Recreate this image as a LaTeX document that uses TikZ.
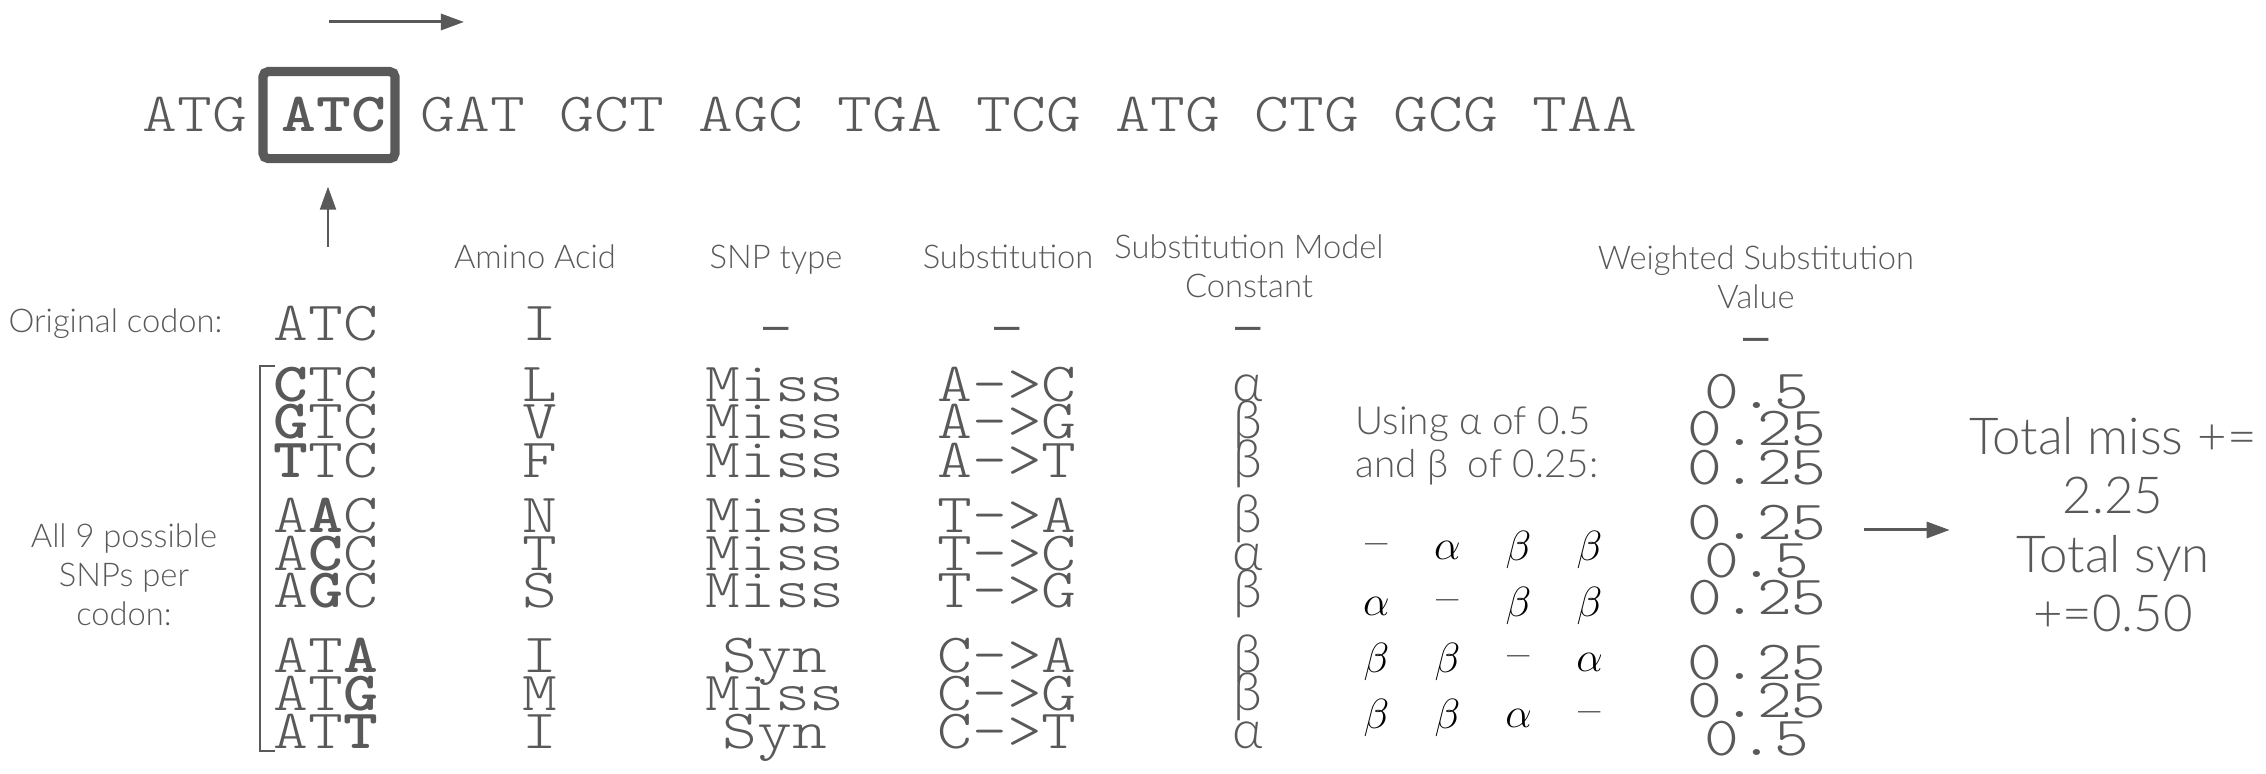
\documentclass[tikz,border=0pt]{standalone}
\usepackage{fontspec}
\setsansfont{Lato Light}
\newfontfamily\seqfont{lmmonolt10-regular.otf}[BoldFont=lmmonolt10-bold.otf,FakeStretch=1.2]
\newfontfamily\dashfont{Liberation Sans}
\usetikzlibrary{arrows.meta,matrix}
\definecolor{ink}{HTML}{595959}
\tikzset{
  mono/.style={font=\seqfont\fontsize{15.7}{18}\selectfont,text=ink,inner sep=0pt},
  colhead/.style={font=\sffamily\fontsize{9.3}{11.1}\selectfont,text=ink,align=center,inner sep=0pt},
  greek/.style={font=\sffamily\fontsize{15}{18}\selectfont,text=ink,inner sep=0pt},
  nilmark/.style={font=\dashfont\fontsize{13}{15}\selectfont,text=ink,inner sep=0pt},
  flow/.style={draw=ink,line width=0.85pt,-{Triangle[length=0.23cm,width=0.16cm]}},
  selbox/.style={draw=ink,line width=2.6pt,rounded corners=1.5pt,minimum width=1.32cm,minimum height=0.87cm,inner sep=0pt},
}

\begin{document}
\begin{tikzpicture}[x=0.01cm,y=-0.01cm]
  \useasboundingbox (0,0) rectangle (2266,774);
  % reading frame
  \foreach \cod [count=\k from 0] in {ATG,\textbf{ATC},GAT,GCT,AGC,TGA,TCG,ATG,CTG,GCG,TAA}
    \node[mono,anchor=base] (seq\k) at ({195+139*\k},132) {\cod};
  \node[selbox] (sel) at ([xshift=-0.05cm]seq1.center) {};
  \coordinate (dirA) at (329,22);
  \coordinate (dirB) at (464,22);
  \draw[flow] (dirA) -- (dirB);
  \coordinate (ptr) at (328,247);
  \draw[flow,line width=0.6pt,shorten >=0.235cm] (ptr) -- (ptr |- sel.south);

  % column heads
  \node[colhead,anchor=base] (hAA) at (535,269) {Amino Acid};
  \node[colhead,anchor=base] (hSNP) at (776,269) {SNP type};
  \node[colhead,anchor=base] (hSub) at (1008,269) {Substitution};
  \node[colhead] (hCon) at (1249,266) {Substitution Model\\Constant};
  \node[colhead] (hWt) at (1756,277) {Weighted Substitution\\Value};

  % original codon
  \node[colhead,anchor=base east] (orig) at (223,333) {Original codon:};
  \node[mono,anchor=base] (ocod) at (326,341) {ATC};
  \node[mono,anchor=base] (oaa) at (540,341) {I};
  \node[nilmark,anchor=base] (osnp) at (776,341) {–};
  \node[nilmark,anchor=base] (osub) at (1007,341) {–};
  \node[nilmark,anchor=base] (ocon) at (1248,341) {–};
  \node[nilmark,anchor=base] (owt) at (1756,352) {–};

  % the nine SNPs
  \node[colhead] (allsnp) at (124,575) {All 9 possible\\SNPs per\\codon:};
  \draw[ink,line width=0.6pt] (275,366) -- (260,366) -- (260,751) -- (275,751);
  \foreach \cod/\aa/\snp/\sub/\con/\wv/\yb [count=\i] in {
      \textbf{C}TC/L/Miss/A->C/α/0.5/402,
      \textbf{G}TC/V/Miss/A->G/β/0.25/439,
      \textbf{T}TC/F/Miss/A->T/β/0.25/478,
      A\textbf{A}C/N/Miss/T->A/β/0.25/533,
      A\textbf{C}C/T/Miss/T->C/α/0.5/571,
      A\textbf{G}C/S/Miss/T->G/β/0.25/608,
      AT\textbf{A}/I/Syn/C->A/β/0.25/673,
      AT\textbf{G}/M/Miss/C->G/β/0.25/711,
      AT\textbf{T}/I/Syn/C->T/α/0.5/749} {
    \node[mono,anchor=base] (cod\i) at (326,\yb) {\cod};
    \node[mono,anchor=base] (aa\i) at (540,\yb) {\aa};
    \node[mono,anchor=base] (snp\i) at (775,\yb) {\snp};
    \node[mono,anchor=base] (sub\i) at (1007,\yb) {\sub};
    \node[greek,anchor=base] (con\i) at (1248,\yb) {\con};
    \node[mono,anchor=base] (wt\i) at (1757,{\yb+7}) {\wv};
  }

  % rate matrix
  \node[colhead,font=\sffamily\fontsize{11}{12.5}\selectfont,align=left,anchor=base west] (using) at (1355,478)
    {Using α of 0.5\\and β\enspace of 0.25:};
  \matrix (rates) [matrix of math nodes,font=\fontsize{13}{15}\selectfont,
    nodes={minimum width=0.71cm,minimum height=0.56cm,inner sep=0pt,anchor=center},
    column sep=0pt,row sep=0pt] at (1483,634) {
    \mbox{--} & \alpha & \beta & \beta \\
    \alpha & \mbox{--} & \beta & \beta \\
    \beta & \beta & \mbox{--} & \alpha \\
    \beta & \beta & \alpha & \mbox{--} \\
  };

  % totals
  \node[colhead,font=\sffamily\fontsize{14.5}{16.8}\selectfont] (total) at (2113,525)
    {Total miss +=\\2.25\\Total syn\\+=0.50};
  \coordinate (sumA) at (1864,530);
  \draw[flow,shorten >=0.19cm] (sumA) -- (sumA -| total.west);
\end{tikzpicture}
\end{document}
